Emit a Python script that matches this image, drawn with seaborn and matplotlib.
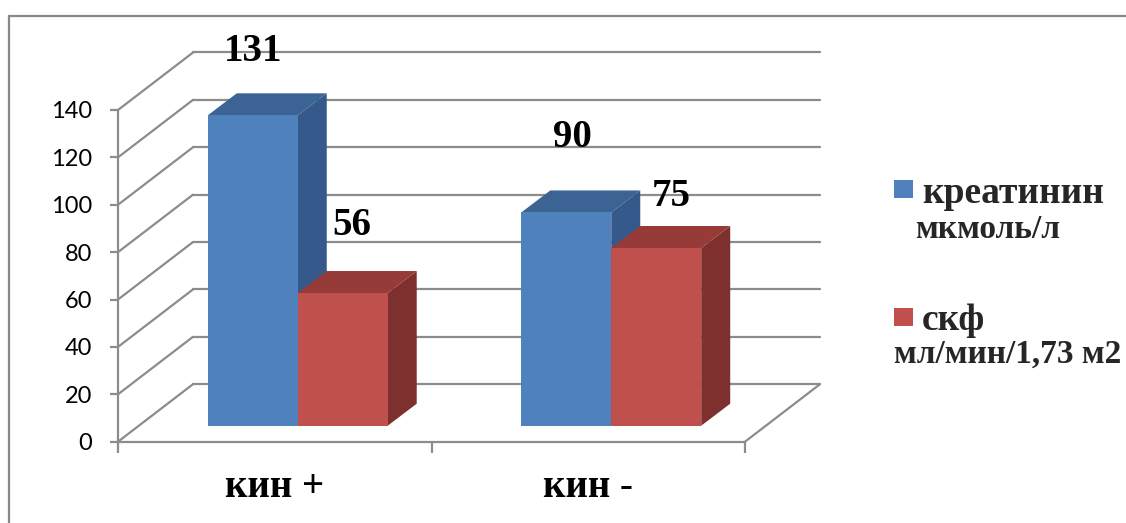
import numpy as np
import pandas as pd
import matplotlib
matplotlib.use("Agg")
import matplotlib.pyplot as plt
from matplotlib.patches import Polygon, Rectangle
from matplotlib.lines import Line2D
import seaborn as sns

# ---------------- data ----------------
categories = ["кин +", "кин -"]
series_names = ["креатинин", "скф"]
series_units = ["мкмоль/л", "мл/мин/1,73 м2"]
creatinine = [131, 90]
gfr = [56, 75]
y_ticks = [0, 20, 40, 60, 80, 100, 120, 140]

# ---------------- style ----------------
front_colors = ["#4F81BD", "#C0504D"]
top_colors = ["#3B6394", "#973B38"]
side_colors = ["#35598A", "#7E302E"]
grid_color = "#8C8C8C"
serif = ["Liberation Serif", "DejaVu Serif"]
# label offsets (pixels) per [series][category]
label_offsets = [[(0, 64), (6, 75)], [(9, 68), (15, 52)]]

df = pd.DataFrame({
    "group": categories * 2,
    "series": [series_names[0]] * len(categories) + [series_names[1]] * len(categories),
    "value": creatinine + gfr,
})

sns.set_theme(style="white")
plt.rcParams["font.family"] = ["Lato", "DejaVu Sans"]

W, H = 1126, 523
fig = plt.figure(figsize=(W / 100, H / 100), dpi=100)
fig.patch.set_facecolor("white")
ax_l, ax_r = 118, 745
ax_b, ax_t = H - 441.7, H - 110
ax = fig.add_axes([ax_l / W, ax_b / H, (ax_r - ax_l) / W, (ax_t - ax_b) / H])
ax.patch.set_alpha(0)

sns.barplot(data=df, x="group", y="value", hue="series", hue_order=series_names,
            order=categories, palette=front_colors, saturation=1, width=0.574,
            ax=ax, legend=False, errorbar=None, linewidth=0)
ax.set_xlim(-0.5, 1.5)
ax.set_ylim(0, 140)

px_x = (ax_r - ax_l) / 2.0
px_y = (ax_t - ax_b) / 140.0


def dx(p):
    return p / px_x


def dy(p):
    return p / px_y


F = (23, 16)     # front-face offset of the bars
D = (29, 22)     # bar depth
WALL = (75, 57.5)  # back wall offset

# back wall + side wall grid
for v in y_ticks:
    ax.add_line(Line2D([-0.5, -0.5 + dx(WALL[0])], [v, v + dy(WALL[1])],
                       color=grid_color, lw=1.6, clip_on=False, zorder=1))
    ax.add_line(Line2D([-0.5 + dx(WALL[0]), 1.5 + dx(WALL[0])],
                       [v + dy(WALL[1])] * 2,
                       color=grid_color, lw=1.6, clip_on=False, zorder=1))
ax.add_line(Line2D([1.5, 1.5 + dx(WALL[0])], [0, dy(WALL[1])],
                   color=grid_color, lw=1.6, clip_on=False, zorder=1))

# 3D bars
bars = []
for si, cont in enumerate(ax.containers):
    for ci, bar in enumerate(cont):
        bars.append((bar.get_x(), si, ci, bar))
bars.sort(key=lambda t: t[0])
for k, (_, si, ci, bar) in enumerate(bars):
    z = 3 + k * 0.1
    x0 = bar.get_x() + dx(F[0])
    w = bar.get_width()
    y0 = dy(F[1])
    h = bar.get_height()
    bar.set_x(x0)
    bar.set_y(y0)
    bar.set_zorder(z + 0.05)
    bar.set_clip_on(False)
    x1, y1 = x0 + w, y0 + h
    ddx, ddy = dx(D[0]), dy(D[1])
    ax.add_patch(Polygon([(x1, y0), (x1 + ddx, y0 + ddy), (x1 + ddx, y1 + ddy), (x1, y1)],
                         closed=True, facecolor=side_colors[si], edgecolor="none",
                         zorder=z, clip_on=False))
    ax.add_patch(Polygon([(x0, y1), (x0 + ddx, y1 + ddy), (x1 + ddx, y1 + ddy), (x1, y1)],
                         closed=True, facecolor=top_colors[si], edgecolor="none",
                         zorder=z, clip_on=False))
    ox, oy = label_offsets[si][ci]
    ax.annotate(f"{h:.0f}", xy=(x0 + w / 2, y1), xytext=(ox, oy),
                textcoords="offset pixels", ha="center", va="center",
                fontsize=28, fontweight="bold", family=serif, color="black",
                zorder=10, annotation_clip=False)

# axes styling
for s in ["top", "right"]:
    ax.spines[s].set_visible(False)
for s in ["left", "bottom"]:
    ax.spines[s].set_color(grid_color)
    ax.spines[s].set_linewidth(1.6)
    ax.spines[s].set_zorder(2)
ax.set_yticks(y_ticks)
ax.set_yticklabels([str(t) for t in y_ticks], fontsize=17,
                   family=["Lato", "DejaVu Sans"])
ax.tick_params(axis="y", length=5.8, width=1.6, color=grid_color,
               pad=13, labelcolor="black", left=True)
ax.set_xticks([0, 1])
ax.set_xticklabels(categories, fontsize=28, fontweight="bold", family=serif)
ax.set_xticks([-0.5, 0.5, 1.5], minor=True)
ax.tick_params(axis="x", which="major", length=0, pad=20, labelcolor="black")
ax.tick_params(axis="x", which="minor", length=8, width=1.6, color=grid_color, bottom=True)
ax.set_xlabel("")
ax.set_ylabel("")
ax.grid(False)

# legend (manual, Excel-like)
def fx(p):
    return p / W


def fyy(p):
    return 1 - p / H


legend_rows = [(180, 203, 238), (308, 330, 363)]
unit_x = [915, 894]
for si, (sq_top, base1, base2) in enumerate(legend_rows):
    fig.patches.append(Rectangle((fx(894), fyy(sq_top + 18)), fx(19), 18 / H,
                                 transform=fig.transFigure, facecolor=front_colors[si],
                                 edgecolor="none"))
    fig.text(fx(922), fyy(base1), series_names[si], fontsize=27, fontweight="bold",
             family=serif, va="baseline", ha="left")
    fig.text(fx(unit_x[si]), fyy(base2), series_units[si], fontsize=24, fontweight="bold",
             family=serif, va="baseline", ha="left")

# chart border
fig.add_artist(Line2D([fx(9), fx(9)], [fyy(16), 0], transform=fig.transFigure,
                      color="#888888", lw=1.6))
fig.add_artist(Line2D([fx(9), 1], [fyy(16), fyy(16)], transform=fig.transFigure,
                      color="#888888", lw=1.6))

fig.savefig("out.png", dpi=100, facecolor="white")
